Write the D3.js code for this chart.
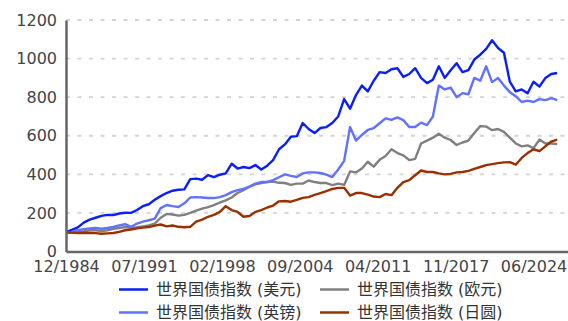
<!DOCTYPE html>
<html>
<head>
<meta charset="utf-8">
<script src="https://cdn.jsdelivr.net/npm/d3@7"></script>
<style>
  html, body { margin: 0; padding: 0; background: #fff; }
  svg { display: block; font-family: "DejaVu Sans", "Noto Sans CJK SC", sans-serif; }
</style>
</head>
<body>
<svg id="chart" width="568" height="321"></svg>
<script>
// Semi-annual observation dates
const dates = [
  "1984-12","1985-06","1985-12","1986-06","1986-12","1987-06","1987-12","1988-06","1988-12","1989-06",
  "1989-12","1990-06","1990-12","1991-06","1991-12","1992-06","1992-12","1993-06","1993-12","1994-06",
  "1994-12","1995-06","1995-12","1996-06","1996-12","1997-06","1997-12","1998-06","1998-12","1999-06",
  "1999-12","2000-06","2000-12","2001-06","2001-12","2002-06","2002-12","2003-06","2003-12","2004-06",
  "2004-12","2005-06","2005-12","2006-06","2006-12","2007-06","2007-12","2008-06","2008-12","2009-06",
  "2009-12","2010-06","2010-12","2011-06","2011-12","2012-06","2012-12","2013-06","2013-12","2014-06",
  "2014-12","2015-06","2015-12","2016-06","2016-12","2017-06","2017-12","2018-06","2018-12","2019-06",
  "2019-12","2020-06","2020-12","2021-06","2021-12","2022-06","2022-12","2023-06","2023-12","2024-06",
  "2024-12","2025-06","2025-12","2026-06"
];

// World government bond index, rebased to 100, by currency
const usd = [
  100,112,125,150,165,175,185,190,189,197,
  201,200,215,235,245,268,287,303,315,320,
  322,375,378,372,396,385,398,405,455,430,
  438,432,448,425,445,474,530,555,595,598,
  666,635,614,640,645,666,700,790,740,811,
  860,830,885,930,925,945,950,905,920,950,
  900,873,890,960,900,940,976,930,940,995,
  1020,1050,1095,1055,1030,880,830,840,820,880,
  855,899,920,925
];
const eur = [
  96,99,100,104,110,110,106,110,117,122,
  127,123,126,130,135,145,175,195,192,186,
  190,200,212,222,230,240,254,265,280,303,
  318,336,348,355,360,362,356,355,345,352,
  352,368,360,355,355,344,352,345,415,410,
  430,465,440,475,495,530,510,498,474,480,
  560,575,590,610,590,578,552,565,575,614,
  650,648,629,635,620,590,560,545,550,536,
  580,560,560,557
];
const gbp = [
  96,102,110,116,120,122,118,122,127,135,
  142,128,145,155,162,170,225,241,235,231,
  250,280,282,280,277,277,282,292,308,318,
  325,336,352,360,360,370,385,400,392,386,
  405,410,410,407,398,386,425,470,645,575,
  604,630,640,665,690,682,695,681,645,645,
  668,655,700,860,840,850,800,821,815,900,
  885,960,878,899,860,826,805,775,782,775,
  790,785,795,785
];
const jpy = [
  100,98,96,97,96,95,92,94,96,102,
  110,114,120,124,127,134,140,130,135,128,
  126,128,155,165,180,190,205,235,215,205,
  180,184,205,215,228,238,260,262,258,268,
  278,282,293,303,313,324,330,330,290,303,
  303,295,285,282,298,292,330,360,370,395,
  420,412,412,405,400,402,410,412,418,428,
  438,448,453,458,462,463,450,485,510,530,
  520,545,570,580
];

const seriesNames = ["世界国债指数 (美元)", "世界国债指数 (欧元)", "世界国债指数 (英镑)", "世界国债指数 (日圆)"];
const seriesColors = ["#0a1ff5", "#808080", "#6271ff", "#9a3000"];
const seriesValues = [usd, eur, gbp, jpy];

const xTickDates = ["1984-12","1991-07","1998-02","2004-09","2011-04","2017-11","2024-06"];
const yTicks = [0, 200, 400, 600, 800, 1000, 1200];
const gridTicks = [200, 400, 600, 800, 1000, 1200];

const parse = d3.timeParse("%Y-%m");
const fmt = d3.timeFormat("%m/%Y");

const plotLeft = 66, plotRight = 568, plotTop = 20, plotBottom = 251.5;

const x = d3.scaleTime()
  .domain([parse("1984-12"), parse("2027-05")])
  .range([plotLeft, plotRight]);
const y = d3.scaleLinear().domain([0, 1200]).range([plotBottom, plotTop]);

const svg = d3.select("#chart");

// horizontal dashed gridlines
svg.append("g")
  .selectAll("line")
  .data(gridTicks)
  .join("line")
  .attr("x1", plotLeft).attr("x2", plotRight)
  .attr("y1", d => y(d)).attr("y2", d => y(d))
  .attr("stroke", "#d4d4d4")
  .attr("stroke-width", 1.8)
  .attr("stroke-dasharray", "4,7.5");

// series lines
const parsedDates = dates.map(parse);
const line = d3.line()
  .x((d, i) => x(parsedDates[i]))
  .y(d => y(d));

svg.append("g")
  .selectAll("path")
  .data(seriesValues)
  .join("path")
  .attr("fill", "none")
  .attr("stroke", (d, i) => seriesColors[i])
  .attr("stroke-width", 2.4)
  .attr("stroke-linejoin", "round")
  .attr("d", d => line(d));

// axes
const yAxis = svg.append("g")
  .attr("transform", `translate(${plotLeft},0)`)
  .call(d3.axisLeft(y).tickValues(yTicks).tickFormat(d3.format("d")).tickSize(0).tickPadding(9));
const xAxis = svg.append("g")
  .attr("transform", `translate(0,${plotBottom})`)
  .call(d3.axisBottom(x).tickValues(xTickDates.map(parse)).tickFormat(fmt).tickSize(0).tickPadding(9));

[yAxis, xAxis].forEach(g => {
  g.select(".domain").attr("stroke", "#666").attr("stroke-width", 2.5);
  g.selectAll("text")
    .attr("fill", "#444")
    .style("font-size", "16px")
    .style("font-family", "'DejaVu Sans', sans-serif");
});

// legend, two columns by two rows
const legendCols = [119, 320];
const legendRows = [289.5, 312.5];
const legend = svg.append("g");
seriesNames.forEach((name, i) => {
  const lx = legendCols[i % 2];
  const ly = legendRows[Math.floor(i / 2)];
  const item = legend.append("g").attr("transform", `translate(${lx},${ly})`);
  item.append("line")
    .attr("x1", 0).attr("x2", 29)
    .attr("y1", 0).attr("y2", 0)
    .attr("stroke", seriesColors[i])
    .attr("stroke-width", 2.5);
  item.append("text")
    .attr("x", 37)
    .attr("y", 0)
    .attr("dy", "0.35em")
    .attr("fill", "#333")
    .style("font-size", "16px")
    .text(name);
});
</script>
</body>
</html>
